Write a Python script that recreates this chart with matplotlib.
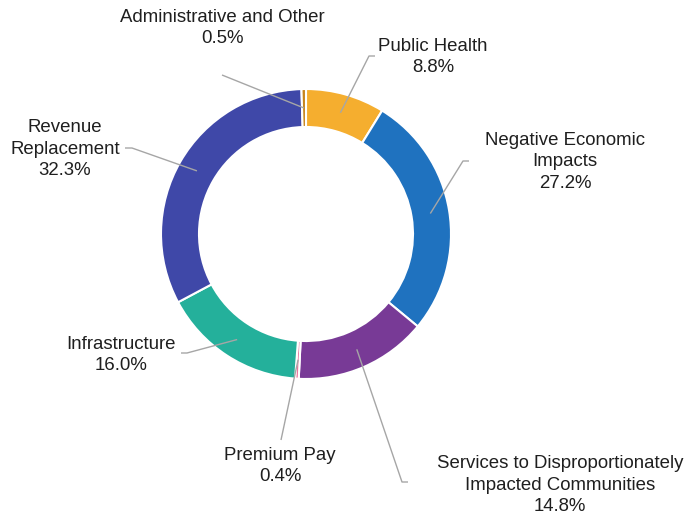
import numpy as np
import matplotlib
matplotlib.use("Agg")
import matplotlib.pyplot as plt

categories = ["Public Health", "Negative Economic\nImpacts",
              "Services to Disproportionately\nImpacted Communities", "Premium Pay",
              "Infrastructure", "Revenue\nReplacement", "Administrative and Other"]
values = [8.8, 27.2, 14.8, 0.4, 16.0, 32.3, 0.5]
colors = ["#F5AE2F", "#1F72BF", "#783A96", "#E8769E", "#24B09B", "#3F48A8", "#C7841D"]

# layout (pixel coordinates, y from top)
W, H = 697, 517
center = (306, 234)
r_out, r_in = 145, 107
label_pos = [(433, 57), (565, 162), (560, 485), (280, 466), (121, 355), (65, 149), (222, 28)]
elbows = [[(369, 56), (375, 56)],
          [(463, 161), (469, 161)],
          [(402, 482), (408, 482)],
          [(281, 440)],
          [(187, 353), (181, 353)],
          [(132, 148), (125, 148)],
          [(222, 75)]]

plt.rcParams['font.family'] = ['Liberation Sans', 'DejaVu Sans']
fig = plt.figure(figsize=(W / 100, H / 100), dpi=100)
ax = fig.add_axes([0, 0, 1, 1])

def py(y):
    return H - y

wedges, _ = ax.pie(values, colors=colors, startangle=90, counterclock=False,
                   center=(center[0], py(center[1])), radius=r_out,
                   wedgeprops=dict(width=r_out - r_in, edgecolor='white', linewidth=1.5),
                   frame=True)
ax.set_xlim(0, W)
ax.set_ylim(0, H)
ax.set_aspect('equal')
ax.axis('off')

r_mid = (r_out + r_in) / 2
for w, cat, val, lp, el in zip(wedges, categories, values, label_pos, elbows):
    ang = np.deg2rad((w.theta1 + w.theta2) / 2)
    sx = center[0] + r_mid * np.cos(ang)
    sy = py(center[1]) + r_mid * np.sin(ang)
    xs = [sx] + [p[0] for p in el]
    ys = [sy] + [py(p[1]) for p in el]
    ax.plot(xs, ys, color='#a6a6a6', lw=1, solid_capstyle='butt', zorder=5)
    ax.text(lp[0], py(lp[1]), f"{cat}\n{val:.1f}%", ha='center', va='center',
            fontsize=13.4, color='#1f1f1f', linespacing=1.34)

fig.savefig("out.png", dpi=100)
